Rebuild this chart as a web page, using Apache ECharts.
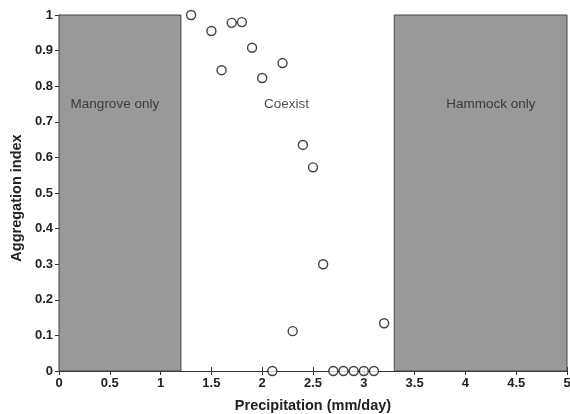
<!DOCTYPE html>
<html>
<head>
<meta charset="utf-8">
<script src="https://cdn.jsdelivr.net/npm/echarts@6/dist/echarts.min.js"></script>
<style>
  html, body { margin: 0; padding: 0; background: #fff; }
  #main { width: 570px; height: 414px; }
</style>
</head>
<body>
<div id="main"></div>
<script>
// precipitation (mm/day) vs aggregation index
const precip = [1.3, 1.5, 1.6, 1.7, 1.8, 1.9, 2.0, 2.1, 2.2, 2.3, 2.4, 2.5, 2.6, 2.7, 2.8, 2.9, 3.0, 3.1, 3.2];
const aggIndex = [1.0, 0.955, 0.845, 0.978, 0.98, 0.908, 0.823, 0, 0.865, 0.112, 0.635, 0.572, 0.30, 0, 0, 0, 0, 0, 0.134];

// shaded zones (mangrove only / hammock only)
const grayZones = [[0, 1.2], [3.3, 5]];
const zoneNames = ['Mangrove only', 'Coexist', 'Hammock only'];
const zoneLabelX = [0.55, 2.24, 4.25];
const zoneLabelY = [0.75, 0.75, 0.75];

const xTicks = [0, 0.5, 1, 1.5, 2, 2.5, 3, 3.5, 4, 4.5, 5];
const yTicks = [0, 0.1, 0.2, 0.3, 0.4, 0.5, 0.6, 0.7, 0.8, 0.9, 1];

const font = 'Liberation Sans, Arial, sans-serif';
const chart = echarts.init(document.getElementById('main'));

let pts = precip.map((x, i) => [x, aggIndex[i]]);
let labels = zoneNames.map((n, i) => ({ name: n, value: [zoneLabelX[i], zoneLabelY[i]] }));

const axisLine = { show: true, lineStyle: { color: '#333', width: 1 } };
const tick = { show: true, inside: true, length: 4, lineStyle: { color: '#333' } };

option = {
  animation: false,
  backgroundColor: '#fff',
  grid: { left: 59, right: 3, top: 15, bottom: 43, outerBoundsMode: 'none' },
  xAxis: [{
    type: 'value', min: 0, max: 5, interval: 0.5,
    name: 'Precipitation (mm/day)', nameLocation: 'middle', nameGap: 27,
    nameTextStyle: { fontFamily: font, fontSize: 14.5, fontWeight: 'bold', color: '#222' },
    axisLine: axisLine, axisTick: tick, splitLine: { show: false },
    axisLabel: { fontFamily: font, fontSize: 13, fontWeight: 'bold', color: '#222', margin: 6,
      formatter: v => xTicks.includes(v) ? String(v) : '' }
  }, {
    type: 'value', position: 'top', min: 0, max: 5, interval: 0.5,
    axisLine: axisLine, axisTick: tick, axisLabel: { show: false }, splitLine: { show: false }
  }],
  yAxis: [{
    type: 'value', min: 0, max: 1, interval: 0.1,
    name: 'Aggregation index', nameLocation: 'middle', nameGap: 34, nameRotate: 90,
    nameTextStyle: { fontFamily: font, fontSize: 14.5, fontWeight: 'bold', color: '#222', padding: [0, 10, 0, 0] },
    axisLine: axisLine, axisTick: tick, splitLine: { show: false },
    axisLabel: { fontFamily: font, fontSize: 13, fontWeight: 'bold', color: '#222', margin: 6,
      formatter: v => yTicks.includes(+v.toFixed(1)) ? String(+v.toFixed(1)) : '' }
  }, {
    type: 'value', position: 'right', min: 0, max: 1, interval: 0.1,
    axisLine: axisLine, axisTick: tick, axisLabel: { show: false }, splitLine: { show: false }
  }],
  series: [{
    type: 'scatter',
    data: pts,
    clip: false,
    z: 5,
    symbol: 'circle',
    symbolSize: 9,
    itemStyle: { color: '#fff', borderColor: '#111', borderWidth: 1.4 },
    markArea: {
      silent: true,
      itemStyle: { color: '#999', borderColor: '#444', borderWidth: 1 },
      data: grayZones.map(z => [{ xAxis: z[0] }, { xAxis: z[1] }])
    }
  }, {
    type: 'scatter',
    data: labels,
    symbolSize: 0,
    z: 6,
    silent: true,
    label: {
      show: true, position: 'inside', formatter: p => p.name,
      fontFamily: font, fontSize: 13.5, color: '#222'
    }
  }]
};
chart.setOption(option);
</script>
</body>
</html>
